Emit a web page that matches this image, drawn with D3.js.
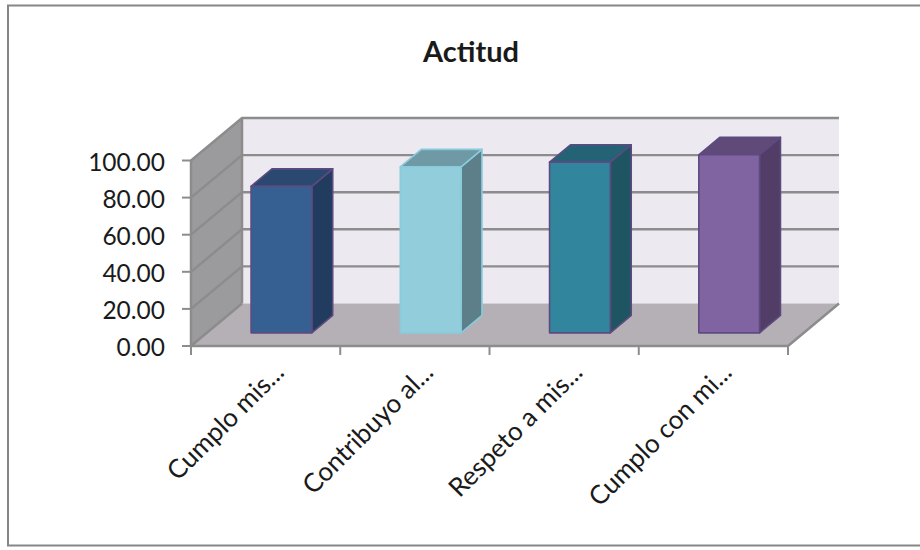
<!DOCTYPE html>
<html>
<head>
<meta charset="utf-8">
<script src="https://cdn.jsdelivr.net/npm/d3@7"></script>
<style>
  html, body { margin: 0; padding: 0; background: #fff; }
  svg { display: block; }
  text { font-family: Lato, "Open Sans", sans-serif; fill: #1a1a1a; }
</style>
</head>
<body>
<svg id="chart" width="920" height="550"></svg>
<script>
const title = "Actitud";
const categories = ["Cumplo mis...", "Contribuyo al...", "Respeto a mis...", "Cumplo con mi..."];
const values = [79, 89.5, 92, 96];
const yTicks = [0, 20, 40, 60, 80, 100];
const frontColors = ["#366092", "#92cddc", "#31859c", "#8064a2"];
const topColors = ["#2a4870", "#6e99a5", "#246275", "#604a7a"];
const sideColors = ["#213c5e", "#5c7f89", "#1f5463", "#513d66"];
const edgeColors = ["#5d4a80", "#88cbdd", "#5d4a80", "#5d4a80"];

const svg = d3.select("#chart");

// Oblique projection: x along the categories, y up the value axis, depth t from front (0) to back (1)
const xScale = d3.scaleBand().domain(categories).range([191, 788]).paddingInner(0.593).paddingOuter(0.2965);
const xTickScale = d3.scaleLinear().domain([0, categories.length]).range([191, 788]);
const yScale = d3.scaleLinear().domain([0, 100]).range([346, 160.5]);
const depthX = d3.scaleLinear().domain([0, 1]).range([0, 51]);
const depthY = d3.scaleLinear().domain([0, 1]).range([0, -42.5]);
const project = (x, v, t) => [x + depthX(t), yScale(v) + depthY(t)];
const poly = pts => d3.line()(pts) + "Z";

const axisGrey = "#8c8c8c";
const leftX = xTickScale(0), rightX = xTickScale(categories.length);

// Chart frame, running past the right edge of the page
svg.append("rect").attr("x", 8).attr("y", 5.5).attr("width", 930).attr("height", 540)
  .attr("fill", "#fff").attr("stroke", "#868686").attr("stroke-width", 2);

svg.append("text").attr("x", 471).attr("y", 62).attr("text-anchor", "middle")
  .attr("font-size", 29).attr("font-weight", 700).text(title);

// Back wall, side wall and floor
svg.append("path").attr("fill", "#ece9f1")
  .attr("d", poly([project(leftX, 0, 1), project(leftX, 100, 1), project(rightX, 100, 1), project(rightX, 0, 1)]));
svg.append("path").attr("fill", "#9b9a9c")
  .attr("d", poly([project(leftX, 0, 0), project(leftX, 100, 0), project(leftX, 100, 1), project(leftX, 0, 1)]));
svg.append("path").attr("fill", "#b5b0b5")
  .attr("d", poly([project(leftX, 0, 0), project(leftX, 0, 1), project(rightX, 0, 1), project(rightX, 0, 0)]));

// Gridlines wrap from the side wall onto the back wall
svg.append("g").selectAll("path").data(yTicks).join("path")
  .attr("fill", "none").attr("stroke", axisGrey)
  .attr("stroke-width", 2.4)
  .attr("d", v => d3.line()(v === 0
    ? [project(leftX, v, 0), project(leftX, v, 1)]
    : [project(leftX, v, 0), project(leftX, v, 1), project(rightX, v, 1)]));

// Wall corner, left axis line and the floor's front and right edges
const edges = [
  [project(leftX, 0, 1), project(leftX, 100, 1)],
  [project(leftX, 0, 0), project(leftX, 100, 0)],
  [project(leftX, 0, 0), project(rightX, 0, 0), project(rightX, 0, 1)]
];
svg.append("g").selectAll("path").data(edges).join("path")
  .attr("fill", "none").attr("stroke", axisGrey).attr("stroke-width", 2.5).attr("d", d => d3.line()(d));

// Value axis ticks and labels
const yAxis = svg.append("g");
yAxis.selectAll("line").data(yTicks).join("line")
  .attr("x1", leftX - 9).attr("x2", leftX)
  .attr("y1", d => yScale(d)).attr("y2", d => yScale(d))
  .attr("stroke", axisGrey).attr("stroke-width", 2);
yAxis.selectAll("text").data(yTicks).join("text")
  .attr("x", 165).attr("y", d => yScale(d) + 10)
  .attr("text-anchor", "end").attr("font-size", 24.5)
  .text(d => d3.format(".2f")(d));

// Category ticks and rotated labels
svg.append("g").selectAll("line").data(d3.range(categories.length + 1)).join("line")
  .attr("x1", i => xTickScale(i)).attr("x2", i => xTickScale(i))
  .attr("y1", yScale(0)).attr("y2", yScale(0) + 9)
  .attr("stroke", axisGrey).attr("stroke-width", 2);
svg.append("g").selectAll("text").data(categories).join("text")
  .attr("text-anchor", "end").attr("font-size", 26)
  .attr("transform", (d, i) => `translate(${xTickScale(i + 0.5) + 20},${yScale(0) + 28}) rotate(-45)`)
  .text(d => d);

// Bars stand between these depths on the floor
const tFront = 0.31, tBack = 0.72;
const bars = svg.append("g").selectAll("g").data(categories).join("g")
  .attr("stroke", (d, i) => edgeColors[i]).attr("stroke-width", 1.6).attr("stroke-linejoin", "round");
const x0 = d => xScale(d), x1 = d => xScale(d) + xScale.bandwidth();
bars.append("path").attr("fill", (d, i) => sideColors[i])
  .attr("d", (d, i) => poly([project(x1(d), 0, tFront), project(x1(d), values[i], tFront), project(x1(d), values[i], tBack), project(x1(d), 0, tBack)]));
bars.append("path").attr("fill", (d, i) => topColors[i])
  .attr("d", (d, i) => poly([project(x0(d), values[i], tFront), project(x0(d), values[i], tBack), project(x1(d), values[i], tBack), project(x1(d), values[i], tFront)]));
bars.append("path").attr("fill", (d, i) => frontColors[i])
  .attr("d", (d, i) => poly([project(x0(d), 0, tFront), project(x0(d), values[i], tFront), project(x1(d), values[i], tFront), project(x1(d), 0, tFront)]));
</script>
</body>
</html>
